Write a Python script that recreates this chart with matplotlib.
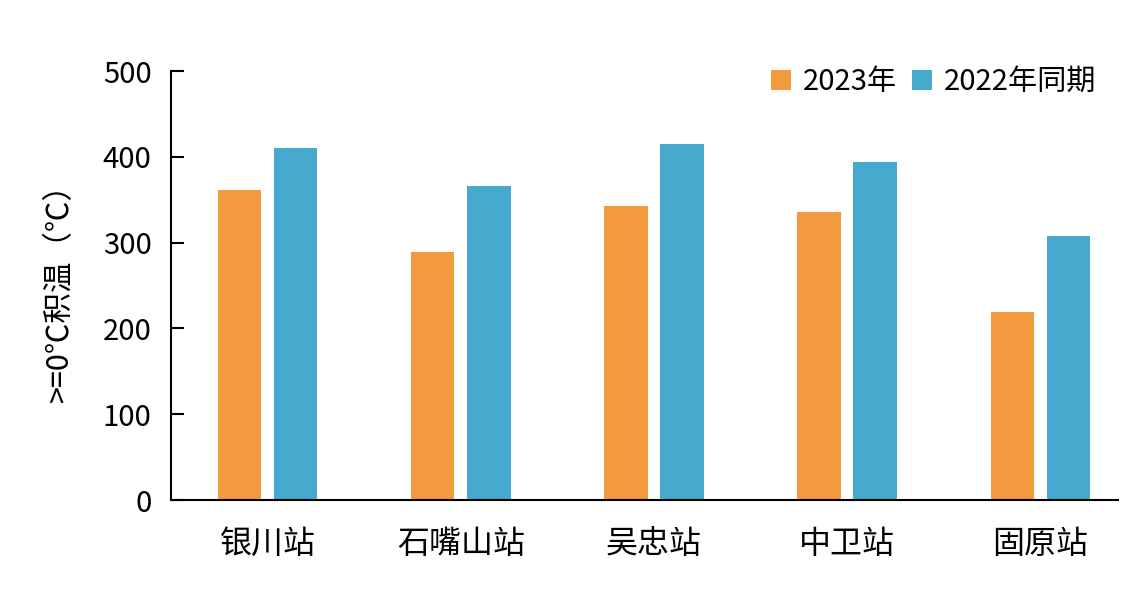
import matplotlib
matplotlib.use('Agg')
import matplotlib.pyplot as plt
import numpy as np

plt.rcParams['font.family'] = ['Noto Sans CJK SC', 'DejaVu Sans']

stations = ['银川站', '石嘴山站', '吴忠站', '中卫站', '固原站']
temp_2023 = [361, 289, 343, 336, 219]
temp_2022 = [410, 366, 415, 394, 308]

x = np.arange(len(stations))
w = 0.225

fig = plt.figure(figsize=(11.42, 5.92), dpi=100)
ax = fig.add_axes([0.1497, 0.1554, 0.829, 0.7246])
ax.bar(x - 0.145, temp_2023, width=w, color='#F39A3F', label='2023年')
ax.bar(x + 0.145, temp_2022, width=w, color='#46AACE', label='2022年同期')

ax.set_xlim(-0.5, 4.4)
ax.set_ylim(0, 500)
ax.set_yticks(range(0, 501, 100))
ax.set_xticks(x)
ax.set_xticklabels(stations, fontsize=23)
ax.tick_params(axis='y', direction='in', length=9, width=1.5, labelsize=21, pad=14)
ax.tick_params(axis='x', length=0, pad=20)
ax.spines['top'].set_visible(False)
ax.spines['right'].set_visible(False)
ax.spines['left'].set_linewidth(1.5)
ax.spines['bottom'].set_linewidth(1.5)
ax.set_ylabel('>=0℃积温（℃）', fontsize=22, labelpad=20)

ax.legend(loc='upper right', ncol=2, frameon=False, fontsize=21,
          handlelength=0.7, handleheight=0.7, handletextpad=0.4,
          columnspacing=0.5, bbox_to_anchor=(1.005, 1.07))

plt.savefig('out.png')
